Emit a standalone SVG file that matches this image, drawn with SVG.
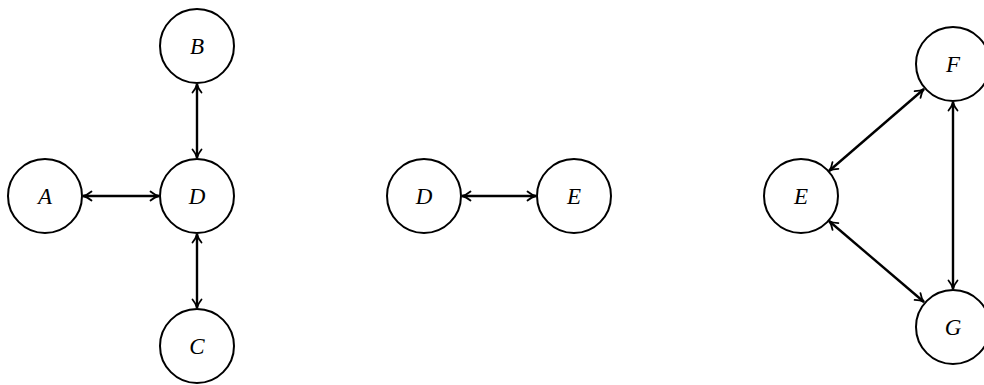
<svg xmlns="http://www.w3.org/2000/svg" width="984" height="385" viewBox="0 0 984 385">
<style>
.node circle{fill:#fff;stroke:#000;stroke-width:2}
.node text{font-family:"Liberation Serif","DejaVu Serif",serif;font-style:italic;font-size:23px;text-anchor:middle;dominant-baseline:central;fill:#000}
.edge{stroke:#000;stroke-width:2.4;fill:none;marker-start:url(#arr);marker-end:url(#arr)}
</style>
<defs>
<marker id="arr" markerUnits="userSpaceOnUse" viewBox="-11 -7 13 14" markerWidth="13" markerHeight="14" refX="0" refY="0" orient="auto-start-reverse">
<path d="M -8.5,-4.5 C -5.5,-2 -2,-0.4 0,0 C -2,0.4 -5.5,2 -8.5,4.5" fill="none" stroke="#000" stroke-width="1.8" stroke-linecap="round"/>
</marker>
</defs>
<g id="connectors">
<line class="edge" x1="83" y1="196" x2="159" y2="196"/>
<line class="edge" x1="197" y1="84" x2="197" y2="158"/>
<line class="edge" x1="197" y1="234" x2="197" y2="308"/>
<line class="edge" x1="462" y1="196" x2="536" y2="196"/>
<line class="edge" x1="829" y1="171" x2="924" y2="89"/>
<line class="edge" x1="829" y1="221" x2="924" y2="302"/>
<line class="edge" x1="953" y1="102" x2="953" y2="289"/>
</g>
<g id="node-A" class="node"><circle cx="45" cy="196" r="37"/><text x="45" y="196">A</text></g>
<g id="node-B" class="node"><circle cx="197" cy="46" r="37"/><text x="197" y="46">B</text></g>
<g id="node-D1" class="node"><circle cx="197" cy="196" r="37"/><text x="197" y="196">D</text></g>
<g id="node-C" class="node"><circle cx="197" cy="346" r="37"/><text x="197" y="346">C</text></g>
<g id="node-D2" class="node"><circle cx="424" cy="196" r="37"/><text x="424" y="196">D</text></g>
<g id="node-E1" class="node"><circle cx="574" cy="196" r="37"/><text x="574" y="196">E</text></g>
<g id="node-E2" class="node"><circle cx="801" cy="196" r="37"/><text x="801" y="196">E</text></g>
<g id="node-F" class="node"><circle cx="953" cy="64" r="37"/><text x="953" y="64">F</text></g>
<g id="node-G" class="node"><circle cx="953" cy="327" r="37"/><text x="953" y="327">G</text></g>
</svg>
